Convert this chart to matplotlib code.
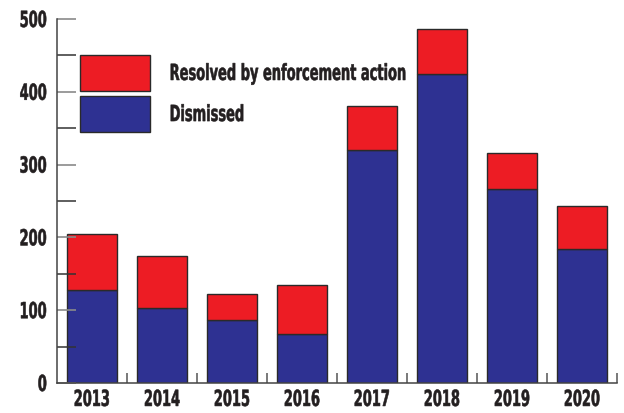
import numpy as np
import matplotlib
matplotlib.use("Agg")
import matplotlib.pyplot as plt
import matplotlib.font_manager as fm
from matplotlib.patches import Patch
from matplotlib.patheffects import AbstractPathEffect
from matplotlib.transforms import Affine2D

years = ["2013", "2014", "2015", "2016", "2017", "2018", "2019", "2020"]
dismissed = [128, 103, 86, 67, 320, 424, 267, 184]
enforcement = [76, 72, 36, 67, 60, 62, 49, 59]

RED = "#ED1C24"
BLUE = "#2E3192"
EDGE = "#2a2a2a"
SPINE = "#444444"
TXT = "#231f20"


def wnum(w):
    if isinstance(w, (int, float)):
        return w
    return {"bold": 700, "semibold": 600, "demibold": 600, "heavy": 800,
            "black": 900, "medium": 500}.get(str(w).lower(), 400)


def srank(f):
    s = (str(f.stretch) + " " + f.name + " " + f.fname).lower()
    if "condensed" in s and ("ultra" in s or "extra" in s):
        return 0
    if "semi" in s:
        return 2
    if "condensed" in s or "narrow" in s:
        return 1
    return 3


# look for a narrow / condensed face, bold if possible
narrow = [f for f in fm.fontManager.ttflist if srank(f) < 3]
narrow.sort(key=lambda f: (max(srank(f), 1), abs(wnum(f.weight) - 700),
                           "italic" in str(f.style).lower()))
if narrow:
    FONT = {"fname": narrow[0].fname}
else:
    FONT = {"family": "DejaVu Sans", "weight": "bold"}


def fp(size):
    return fm.FontProperties(size=size, **FONT)


class Squeeze(AbstractPathEffect):
    """squash glyphs horizontally, keeping the aligned edge in place"""

    def __init__(self, sx, align="left", stroke=0.4):
        super().__init__()
        self.sx = sx
        self.align = align
        self.stroke = stroke

    def draw_path(self, renderer, gc, tpath, affine, rgbFace=None):
        ext = tpath.get_extents()
        cx = {"left": ext.x0, "center": (ext.x0 + ext.x1) / 2, "right": ext.x1}[self.align]
        t = Affine2D().translate(-cx, 0).scale(self.sx, 1).translate(cx, 0)
        gc0 = renderer.new_gc()
        gc0.copy_properties(gc)
        gc0.set_linewidth(self.stroke)
        gc0.set_foreground(rgbFace)
        gc0.set_joinstyle("round")
        renderer.draw_path(gc0, tpath, t + affine, rgbFace)
        gc0.restore()


FS = 16
SX = 10.4 / FS

fig = plt.figure(figsize=(6.24, 4.13), dpi=100)
ax = fig.add_axes([57 / 624, 30 / 413, 560 / 624, 364 / 413])

x = np.arange(len(years))
ax.bar(x, dismissed, width=0.714, color=BLUE, edgecolor=EDGE, linewidth=1.0)
ax.bar(x, enforcement, width=0.714, bottom=dismissed, color=RED, edgecolor=EDGE, linewidth=1.0)

ax.set_xlim(-0.5, len(years) - 0.5)
ax.set_ylim(0, 500)
for s in ["top", "right"]:
    ax.spines[s].set_visible(False)
for s in ["left", "bottom"]:
    ax.spines[s].set_color(SPINE)
    ax.spines[s].set_linewidth(1.1)

ax.set_yticks(np.arange(0, 501, 100))
ax.set_yticks(np.arange(50, 500, 100), minor=True)
ax.tick_params(axis="y", which="major", direction="in", length=14, width=1.2, color="#8a8a8a", pad=7)
ax.tick_params(axis="y", which="minor", direction="in", length=14, width=1.1, color="#333333")
ax.set_xticks(x)
ax.set_xticks(np.arange(0.5, len(years), 1), minor=True)
ax.tick_params(axis="x", which="major", length=0, pad=5)
ax.tick_params(axis="x", which="minor", direction="in", length=7, width=1.1, color="#555555")
ax.set_xticklabels(years, fontproperties=fp(FS), color=TXT)
ax.set_yticklabels([str(v) for v in range(0, 501, 100)], fontproperties=fp(FS), color=TXT)
for t in ax.get_xticklabels():
    t.set_path_effects([Squeeze(SX, "center")])
for t in ax.get_yticklabels():
    t.set_path_effects([Squeeze(SX, "right")])

handles = [Patch(facecolor=RED, edgecolor=EDGE, linewidth=1.0),
           Patch(facecolor=BLUE, edgecolor=EDGE, linewidth=1.0)]
fl = FS * 100 / 72
leg = ax.legend(handles, ["Resolved by enforcement action", "Dismissed"],
                loc="upper left", bbox_to_anchor=(23 / 560, 1 - 36 / 364), frameon=False,
                borderpad=0, borderaxespad=0, handlelength=70 / fl,
                handleheight=(36 / fl - 0.245) / 0.65,
                labelspacing=0.26 * 14 / FS, handletextpad=19 / fl, prop=fp(FS))
for t in leg.get_texts():
    t.set_color(TXT)
    t.set_path_effects([Squeeze(SX, "left")])

fig.savefig("out.png", dpi=100)
